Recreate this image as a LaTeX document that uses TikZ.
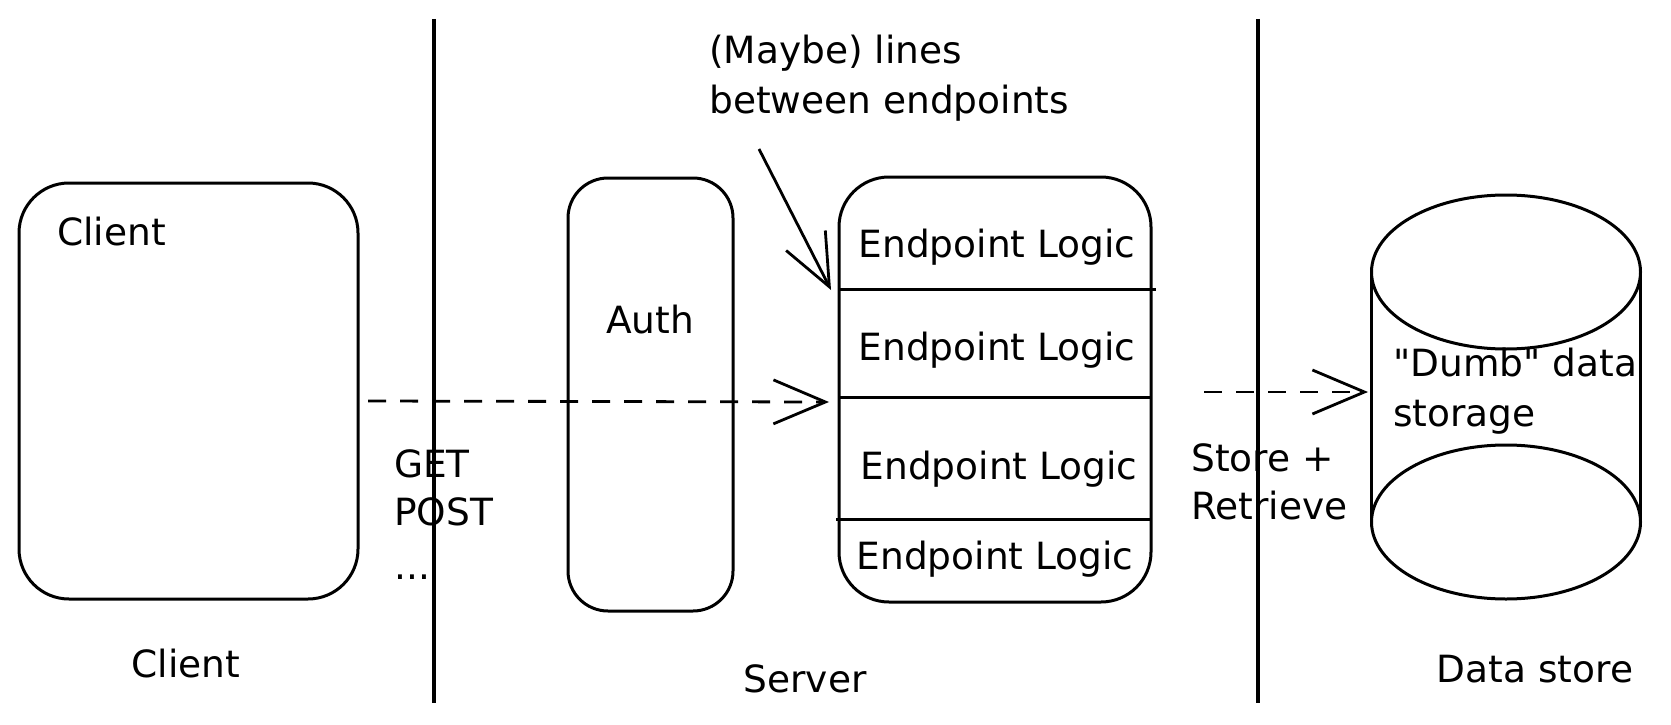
\documentclass[tikz,border=0pt]{standalone}
\usepackage{fontspec}
\setmainfont[Ligatures=TeXOff]{DejaVu Sans}
\usetikzlibrary{arrows.meta}
\begin{document}
\begin{tikzpicture}[x=1pt,y=-1pt,
  lbl/.style={font=\fontsize{37.5}{48}\selectfont, inner sep=0pt},
  box/.style={draw, line width=3pt, inner sep=0pt},
  sep/.style={line width=3.2pt},
  conn/.style={line width=2.8pt, -{Straight Barb[length=52pt,width=44pt,line width=2.8pt]}},
  dashconn/.style={conn, dash pattern=on 18pt off 14pt},
  thin/.style={line width=3pt}
]
\useasboundingbox (0,0) rectangle (1671,725);

% separators
\draw[sep] (434,19) -- (434,703);
\draw[sep] (1258,19) -- (1258,703);

% client
\node[box, rounded corners=50pt, minimum width=339pt, minimum height=416pt] (client) at (188.5,391) {};
\node[lbl, anchor=west] (clientin) at (57,232) {Client};

% auth
\node[box, rounded corners=40pt, minimum width=165pt, minimum height=433pt] (auth) at (650.5,394.5) {};
\node[lbl] (authtxt) at (650,320) {Auth};

% endpoints
\node[box, rounded corners=50pt, minimum width=312pt, minimum height=425pt] (ep) at (995,389.5) {};
\draw[thin] (839,289) -- (1156,289);
\draw[thin] (839,397) -- (1151,397);
\draw[thin] (836,519) -- (1151,519);
\node[lbl] (el1) at (997,247) {Endpoint Logic};
\node[lbl] (el2) at (997,350) {Endpoint Logic};
\node[lbl] (el3) at (999,469) {Endpoint Logic};
\node[lbl] (el4) at (995,559) {Endpoint Logic};

% annotation
\node[lbl, anchor=west, align=left, font=\fontsize{37.5}{50}\selectfont] (ann) at (709,78) {(Maybe) lines\\between endpoints};
\coordinate (annS) at (759,149);
\coordinate (annE) at (831,290);
\draw[conn] (annS) -- (annE);

% request arrow
\coordinate (reqS) at (368,401);
\coordinate (reqE) at (829,402);
\draw[dashconn] (reqS) -- (reqE);
\node[lbl, anchor=west] (get) at (394,464) {GET};
\node[lbl, anchor=west] (post) at (394,512) {POST};
\node[lbl, anchor=west] (dots) at (394,577) {...};

% store arrow
\coordinate (stS) at (1204,392);
\coordinate (stE) at (1368,392);
\draw[dashconn] (stS) -- (stE);
\node[lbl, anchor=west, align=left] (store) at (1191,482) {Store +\\Retrieve};

% cylinder
\draw[thin] (1506,272) ellipse [x radius=134.5pt, y radius=77pt];
\draw[thin] (1506,522) ellipse [x radius=134.5pt, y radius=77pt];
\draw[thin] (1371.5,272) -- (1371.5,522);
\draw[thin] (1640.5,272) -- (1640.5,522);
\node[lbl, anchor=west, align=left, font=\fontsize{37.5}{50}\selectfont] (dbtxt) at (1393,391) {"Dumb" data\\storage};

% column labels
\node[lbl] (lclient) at (186,664) {Client};
\node[lbl] (lserver) at (805,679) {Server};
\node[lbl] (ldata) at (1535,669) {Data store};
\end{tikzpicture}
\end{document}
